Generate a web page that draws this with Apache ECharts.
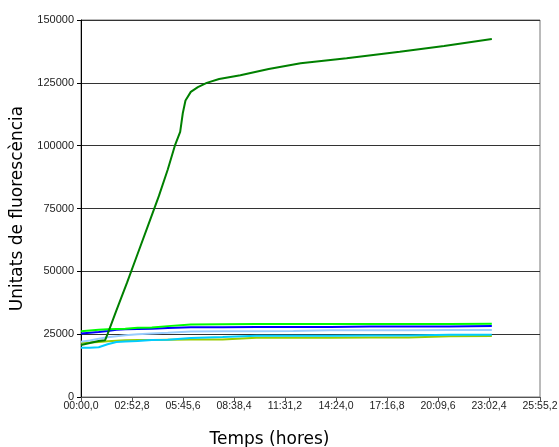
<!DOCTYPE html>
<html>
<head>
<meta charset="utf-8">
<script src="https://cdn.jsdelivr.net/npm/echarts@6/dist/echarts.min.js"></script>
<style>
  html, body { margin: 0; padding: 0; background: #fff; }
  #main { width: 559px; height: 447px; }
</style>
</head>
<body>
<div id="main"></div>
<script>
// temps en hores
var hoursMain = [0, 0.5, 1.0, 1.36, 1.5, 2.0, 2.6, 3.2, 3.8, 4.4, 4.9, 5.3, 5.6, 5.75, 5.9, 6.2, 6.6, 7.1, 7.8, 9.0, 10.6, 12.4, 15.0, 18.0, 20.5, 23.2];
var valuesMain = [20700, 21500, 22300, 22600, 25000, 34500, 45500, 57000, 68500, 80000, 90500, 100000, 105500, 113000, 118000, 121400, 123300, 125000, 126500, 128000, 130500, 132800, 134800, 137400, 139700, 142400];

var hoursSmall = [0, 0.5, 1.0, 1.5, 2.0, 2.5, 3.2, 4.0, 4.9, 6.2, 8, 9.9, 12, 14.1, 16.3, 18.5, 20.8, 23.2];
var valBrightGreen = [26200, 26500, 26800, 27000, 27100, 27200, 27600, 27700, 28200, 28800, 28900, 29000, 29000, 29000, 29000, 29000, 29000, 29100];
var valBlue = [25300, 25600, 25900, 26300, 26800, 27000, 27100, 27200, 27500, 27800, 27800, 27900, 27900, 27900, 28100, 28100, 28100, 28200];
var valLightBlue = [22000, 22500, 23200, 23800, 24200, 24600, 25000, 25300, 25600, 26100, 26200, 26200, 26300, 26600, 26600, 26600, 26700, 26700];
var valCyan = [19600, 19600, 19800, 21000, 21900, 22100, 22300, 22700, 22800, 23500, 23900, 24400, 24400, 24400, 24500, 24500, 24800, 24800];
var valLime = [21600, 21700, 21900, 22200, 22400, 22600, 22700, 22700, 22800, 22900, 22900, 23600, 23600, 23600, 23700, 23700, 24200, 24300];

var yTicks = [0, 25000, 50000, 75000, 100000, 125000, 150000];

function pairs(hours, vals) {
    var out = [];
    for (var i = 0; i < hours.length; i++) {
        out.push([Math.round(hours[i] * 3600), vals[i]]);
    }
    return out;
}

function pad(n) {
    return (n < 10 ? '0' : '') + n;
}

function fmtTime(s) {
    var h = Math.floor(s / 3600);
    var dm = Math.round((s - h * 3600) / 6); // decimes de minut
    var m = Math.floor(dm / 10);
    return pad(h) + ':' + pad(m) + ',' + (dm % 10);
}

function lineSeries(name, hours, vals, color, z) {
    return {
        name: name,
        type: 'line',
        data: pairs(hours, vals),
        showSymbol: false,
        symbol: 'none',
        z: z,
        lineStyle: { color: color, width: 2 },
        animation: false
    };
}

var myChart = echarts.init(document.getElementById('main'));
var option = {
    backgroundColor: '#fff',
    animation: false,
    grid: {
        left: 81,
        right: 19,
        top: 20,
        bottom: 50,
        containLabel: false,
        outerBoundsMode: 'none',
        show: true,
        borderColor: '#777',
        borderWidth: 1,
        backgroundColor: '#fff'
    },
    xAxis: {
        type: 'value',
        min: 0,
        max: 93312,
        interval: 10368,
        name: 'Temps (hores)',
        nameLocation: 'middle',
        nameGap: 34,
        nameTextStyle: {
            fontFamily: 'DejaVu Sans',
            fontSize: 17,
            color: '#000',
            padding: [0, 82, 0, 0]
        },
        axisLine: { show: true, lineStyle: { color: '#555', width: 1 } },
        axisTick: { show: true, inside: false, length: 4, lineStyle: { color: '#555' } },
        axisLabel: {
            formatter: fmtTime,
            fontFamily: 'Liberation Sans',
            fontSize: 10.5,
            color: '#222',
            margin: 4,
            showMaxLabel: true,
            showMinLabel: true
        },
        splitLine: { show: false }
    },
    yAxis: {
        type: 'value',
        min: yTicks[0],
        max: yTicks[yTicks.length - 1],
        interval: 25000,
        name: 'Unitats de fluorescència',
        nameLocation: 'middle',
        nameGap: 49,
        nameTextStyle: {
            fontFamily: 'DejaVu Sans',
            fontSize: 17,
            color: '#000'
        },
        axisLine: { show: true, lineStyle: { color: '#000', width: 1 } },
        axisTick: { show: true, inside: false, length: 4, lineStyle: { color: '#000' } },
        axisLabel: {
            formatter: function (v) { return String(v); },
            fontFamily: 'Liberation Sans',
            fontSize: 11,
            color: '#222',
            margin: 7
        },
        splitLine: { show: true, lineStyle: { color: '#333', width: 1 } }
    },
    series: [
        lineSeries('S2', hoursSmall, valLime, '#99cc00', 2),
        lineSeries('S3', hoursSmall, valCyan, '#00ccff', 3),
        lineSeries('S4', hoursSmall, valLightBlue, '#99ccff', 4),
        lineSeries('S5', hoursSmall, valBlue, '#0000ff', 5),
        lineSeries('S6', hoursSmall, valBrightGreen, '#00ff00', 6),
        lineSeries('S1', hoursMain, valuesMain, '#008000', 7)
    ]
};
myChart.setOption(option);
</script>
</body>
</html>
